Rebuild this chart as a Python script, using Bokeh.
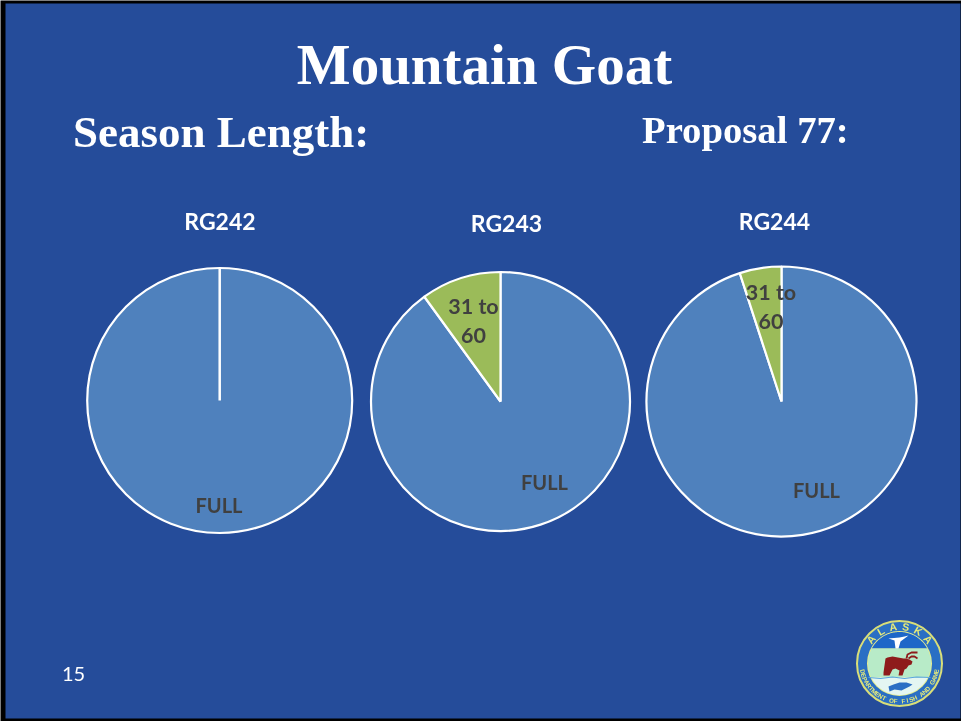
import numpy as np
from bokeh.plotting import figure
from bokeh.models import ColumnDataSource
from bokeh.core.properties import value
from bokeh.embed import file_html
from bokeh.resources import INLINE

W, H = 961, 721
TITLE = "Mountain Goat"
SUBTITLE_LEFT = "Season Length:"
SUBTITLE_RIGHT = "Proposal 77:"
PAGE_NUMBER = "15"
regions = ["RG242", "RG243", "RG244"]
full_pct = [100, 90, 95]
mid_pct = [0, 10, 5]
seg_labels = ["FULL", "31 to\n60"]

BG = "#254C9A"; BLUE = "#4F81BD"; GREEN = "#9BBB59"; DARK = "#404040"
SERIF = value("Liberation Serif"); SANS = value("Lato")

def Y(py):
    return H - np.asarray(py, dtype=float)

p = figure(width=W, height=H, x_range=(0, W), y_range=(0, H), output_backend="svg",
           toolbar_location=None, min_border=0, outline_line_color=None,
           background_fill_color="black", border_fill_color="black")
p.axis.visible = False
p.grid.visible = False
p.styles = {"position": "fixed", "left": "0px", "top": "0px"}

# slide panel
p.quad(left=[5], right=[960], bottom=[Y(718)], top=[Y(3)], fill_color=BG, line_color=None)

def txt(x, y, s, size, font, color="white", style="bold", align="center", angle=0, lh=1.2):
    p.text(x=[x], y=[Y(y)], text=[s], text_font=font, text_font_size=f"{size}px", text_color=color,
           text_font_style=style, text_align=align, text_baseline="middle", angle=[angle],
           text_line_height=lh)

txt(484, 64, TITLE, 57, SERIF)
txt(72.5, 131, SUBTITLE_LEFT, 45, SERIF, align="left")
txt(641.5, 129, SUBTITLE_RIGHT, 38.7, SERIF, align="left")
txt(73, 673, PAGE_NUMBER, 20, SANS, style="normal")

# pies
centres_x = [219.2, 500, 781]
centres_y = [400, 401, 401]
radii = [132.5, 129.5, 135]
title_pos = [(219.5, 220), (506, 222), (774, 220)]
full_label_pos = [(218.5, 504.5), (544, 481.5), (816, 489.5)]
mid_label_pos = [None, (473, 320), (770.5, 306)]

for i, r in enumerate(regions):
    cx, cy, rad = centres_x[i], float(Y(centres_y[i])), radii[i]
    tx, ty = title_pos[i]
    txt(tx, ty, r, 23, SANS)
    top = np.pi / 2
    full_a = 2 * np.pi * full_pct[i] / 100
    mid_a = 2 * np.pi * mid_pct[i] / 100
    if mid_pct[i] == 0:
        p.circle(x=[cx], y=[cy], radius=rad, fill_color=BLUE, line_color="white", line_width=2.2)
        p.segment(x0=[cx], y0=[cy], x1=[cx], y1=[cy + rad], line_color="white", line_width=2.5)
    else:
        src = ColumnDataSource(dict(x=[cx, cx], y=[cy, cy],
                                    start=[top - full_a, top],
                                    end=[top, top + mid_a],
                                    color=[BLUE, GREEN]))
        p.wedge(x="x", y="y", radius=rad, start_angle="start", end_angle="end",
                fill_color="color", line_color="white", line_width=2.2, source=src)
    fx, fy = full_label_pos[i]
    txt(fx, fy, seg_labels[0], 20, SANS, color=DARK)
    if mid_label_pos[i]:
        mx, my = mid_label_pos[i]
        txt(mx, my, seg_labels[1], 21.5, SANS, color=DARK, lh=1.15)

# Alaska Department of Fish and Game seal (decorative)
lx, ly = 899.0, 663.0
p.circle(x=[lx], y=[Y(ly)], radius=42.5, fill_color="#2A6FC4", line_color="#D9DE78", line_width=2)

def chord(y0, y1, r=31.5):
    t = np.linspace(0, 2 * np.pi, 200)
    xs = lx + r * np.cos(t)
    ys = ly + r * np.sin(t)
    ys = np.clip(ys, y0, y1)
    return xs, Y(ys)

p.circle(x=[lx], y=[Y(ly)], radius=32.5, fill_color="#E8EE90", line_color=None)
for y0, y1, c in [(ly - 32, 648, "#1E67C8"), (648, 677, "#B8EBC8"), (677, ly + 32, "#E4F6F2")]:
    xs, ys = chord(y0, y1)
    p.patch(xs, ys, fill_color=c, line_color=None)
p.line([868, 880, 892, 904, 916, 930], Y([677, 678, 676.5, 678, 676.5, 677]), line_color="#5AA6E0", line_width=1.2)
# swan
p.patch([888, 899, 904, 908, 900, 898, 895, 894], Y([638, 637, 636, 635, 641, 648, 648, 640]),
        fill_color="white", line_color=None)
# caribou
p.patch([885, 887, 892, 903, 905, 909, 912, 911, 908, 906, 904, 902, 898, 899, 895, 892, 889, 886, 883, 883, 884],
        Y([658, 657, 656, 658, 658, 659, 661, 664, 665, 668, 669, 675, 675, 670, 668, 669, 675, 675, 675, 672, 665]),
        fill_color="#8E1B1B", line_color=None)
p.multi_line([[906, 907, 911, 917], [908, 911, 914, 917]], [list(Y([658, 654, 652, 652])), list(Y([658, 656, 656, 658]))],
             line_color="#8E1B1B", line_width=1.8)
# fish
p.patch([888, 893, 899, 906, 912, 909, 901, 894, 889], Y([686, 684, 682, 682, 684, 686, 690, 689, 691]),
        fill_color="#2A6FC4", line_color=None)

def arc_text(s, a0, a1, r, size):
    for ch, a in zip(s, np.linspace(a0, a1, len(s))):
        rad = np.radians(a)
        x, y = lx + r * np.cos(rad), ly - r * np.sin(rad)
        up = 0 < a < 180
        rot = rad - np.pi / 2 if up else rad + np.pi / 2
        txt(float(x), float(y), ch, size, value("Liberation Sans"), color="#E6EA7A", angle=float(rot))

arc_text("ALASKA", 140, 40, 37.5, 10.5)
arc_text("DEPARTMENT OF FISH AND GAME", 192, 348, 37.5, 6.2)

open("out.html", "w").write(file_html(p, INLINE))
